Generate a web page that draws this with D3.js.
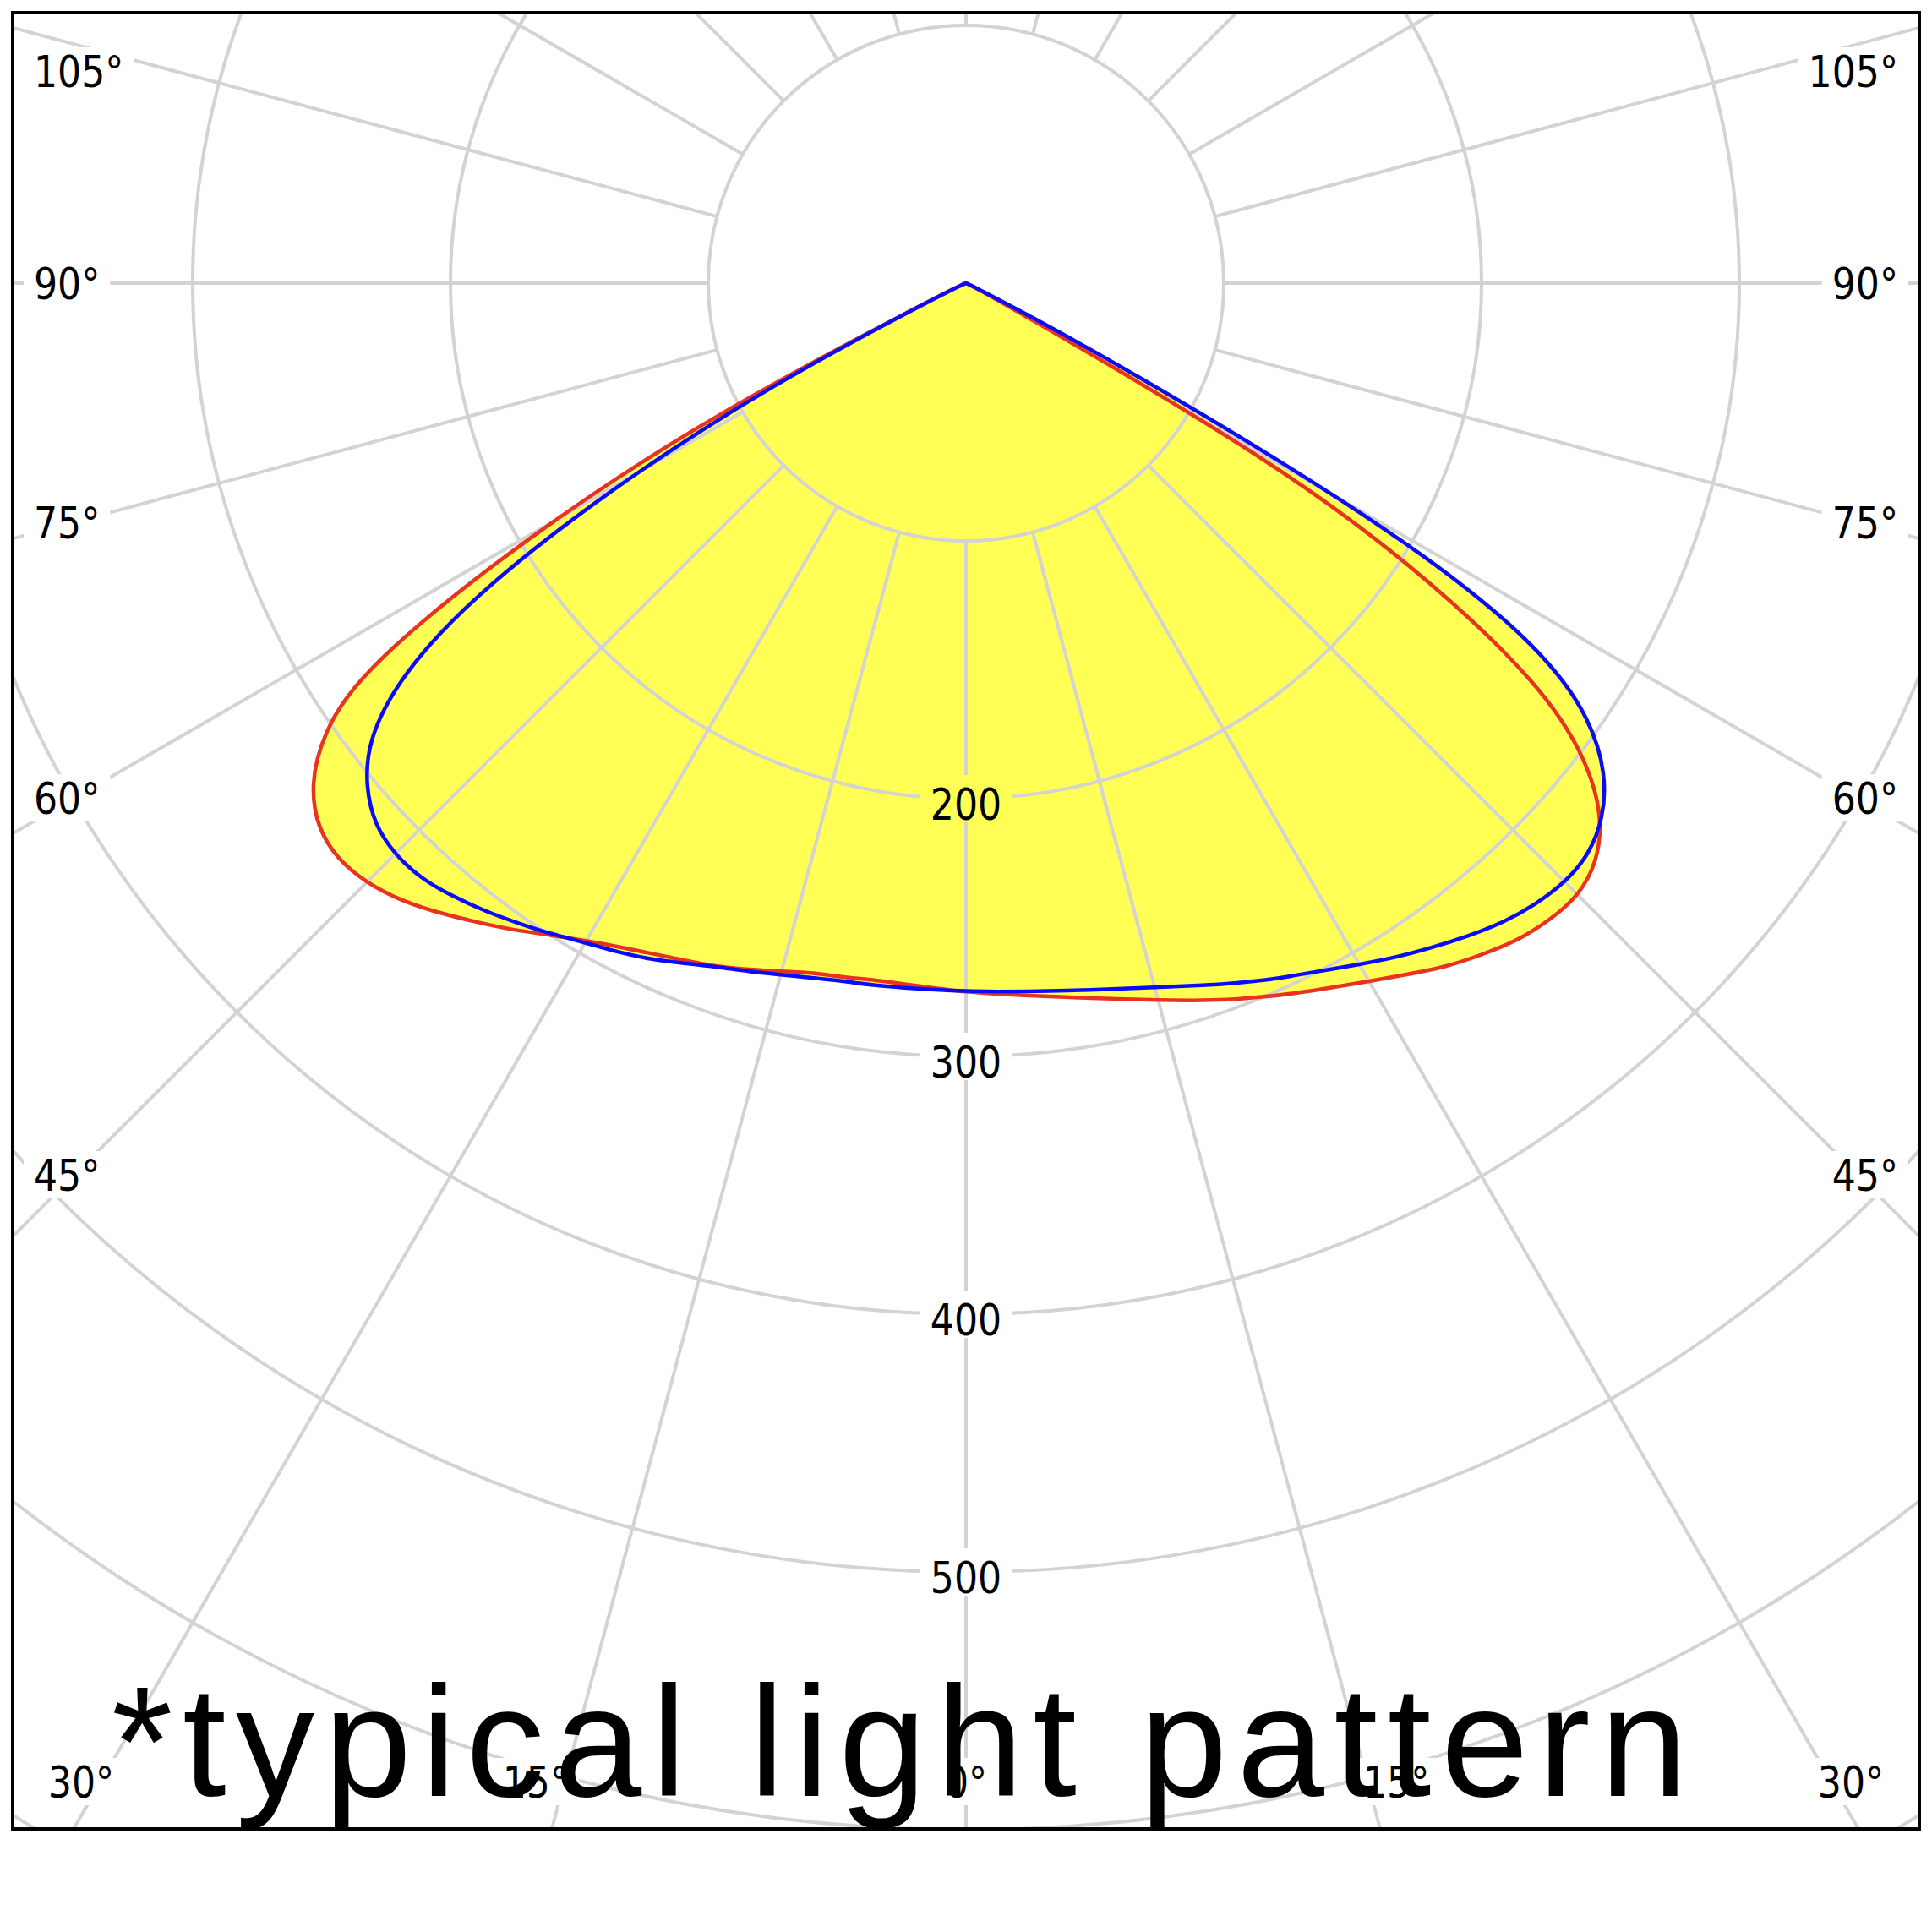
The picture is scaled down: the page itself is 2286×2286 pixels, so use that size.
<!DOCTYPE html>
<html>
<head>
<meta charset="utf-8">
<script src="https://cdn.jsdelivr.net/npm/d3@7"></script>
<style>
  html, body { margin: 0; padding: 0; background: #fff; }
</style>
</head>
<body>
<svg id="chart" width="2286" height="2286"></svg>
<script>
// vertical angles (0 = straight down, negative = left half), every 2.5 deg
const ANGLES = [
  -90, -87.5, -85, -82.5, -80, -77.5, -75, -72.5, -70, -67.5, -65, -62.5, -60, -57.5, -55, -52.5,
  -50, -47.5, -45, -42.5, -40, -37.5, -35, -32.5, -30, -27.5, -25, -22.5, -20, -17.5, -15, -12.5,
  -10, -7.5, -5, -2.5, 0, 2.5, 5, 7.5, 10, 12.5, 15, 17.5, 20, 22.5, 25, 27.5,
  30, 32.5, 35, 37.5, 40, 42.5, 45, 47.5, 50, 52.5, 55, 57.5, 60, 62.5, 65, 67.5,
  70, 72.5, 75, 77.5, 80, 82.5, 85, 87.5, 90
];

// red plane (cd/klm)
const RED = [
  0, 0, 0, 0, 0, 0, 0, 0, 0, 2, 14, 114, 196, 277, 305, 320.5,
  328.5, 330.8, 329, 324.8, 318.8, 312.4, 306.4, 299.8, 294.6, 290.4, 287.1, 284.5, 282.2, 279.2, 276.4, 274,
  273.5, 272.6, 273, 273.8, 275, 276, 277.5, 279.3, 281.7, 284.5, 288, 291.8, 296, 299.8, 303.9, 308,
  312.8, 318, 324, 328.5, 333, 335.2, 336.2, 332.2, 322.5, 303.5, 273, 212, 139, 14, 2, 0,
  0, 0, 0, 0, 0, 0, 0, 0, 0
];

// blue plane (cd/klm)
const BLUE = [
  0, 0, 0, 0, 0, 0, 0, 0, 0, 1, 10, 84, 159, 230, 269.8, 292.6,
  304, 311.2, 313.4, 313.2, 310.3, 307, 303.1, 299.4, 295.4, 292.6, 289.5, 285.6, 282.3, 280, 277.7, 276.1,
  274.9, 274.8, 274.4, 274.4, 274.7, 275.1, 275.8, 276.9, 278.4, 280.3, 282.8, 285.9, 289.5, 293.2, 296.8, 300.6,
  305.2, 310.2, 314.8, 319.5, 324, 327, 328.8, 328, 322.8, 313, 296, 267, 200, 64, 5, 0,
  0, 0, 0, 0, 0, 0, 0, 0, 0
];

const RINGS = [100, 200, 300, 400, 500, 600, 700, 800];
const RING_LABELS = [200, 300, 400, 500];
const SPOKES = [0, 15, 30, 45, 60, 75, 90, 105, 120, 135, 150, 165, 180,
  195, 210, 225, 240, 255, 270, 285, 300, 315, 330, 345];
const SIDE_LABELS = [45, 60, 75, 90, 105];
const BOTTOM_LABELS = [-30, -15, 0, 15, 30];
const NOTE = "*typical light pattern";

const frame = { x0: 15, y0: 15, x1: 2271, y1: 2164 };
const cx = 1143, cy = 335;
const GRID = "#d3d3d3";
const LABEL_FONT = "'DejaVu Sans', Verdana, sans-serif";
const SQUEEZE = 0.85;

const r = d3.scaleLinear().domain([0, 100]).range([0, 305]);
const rad = d => d * Math.PI / 180;
const pt = (deg, v) => [cx + r(v) * Math.sin(rad(deg)), cy + r(v) * Math.cos(rad(deg))];

const svg = d3.select("#chart");
const defs = svg.append("defs");

defs.append("clipPath").attr("id", "frameClip")
  .append("rect")
  .attr("x", frame.x0).attr("y", frame.y0)
  .attr("width", frame.x1 - frame.x0).attr("height", frame.y1 - frame.y0);

// grid gets knocked out behind the labels
const mask = defs.append("mask").attr("id", "labelMask")
  .attr("maskUnits", "userSpaceOnUse")
  .attr("x", 0).attr("y", 0).attr("width", 2286).attr("height", 2286);
mask.append("rect").attr("width", 2286).attr("height", 2286).attr("fill", "#fff");

const radial = d3.lineRadial()
  .angle(d => Math.PI - rad(d[0]))
  .radius(d => r(d[1]))
  .curve(d3.curveBasis);

const series = [
  { name: "red", values: RED, color: "#e8341f" },
  { name: "blue", values: BLUE, color: "#0a0aff" }
];
series.forEach(s => { s.points = ANGLES.map((a, i) => [a, s.values[i]]); });

// yellow fills
const fillG = svg.append("g").attr("transform", `translate(${cx},${cy})`);
fillG.selectAll("path")
  .data(series)
  .enter()
  .append("path")
  .attr("d", d => radial(d.points) + "Z")
  .attr("fill", "#ffff55")
  .attr("stroke", "none");

// grid
const grid = svg.append("g")
  .attr("clip-path", "url(#frameClip)")
  .append("g")
  .attr("mask", "url(#labelMask)");

grid.selectAll("circle")
  .data(RINGS)
  .enter()
  .append("circle")
  .attr("cx", cx).attr("cy", cy)
  .attr("r", d => r(d))
  .attr("fill", "none")
  .attr("stroke", GRID)
  .attr("stroke-width", 4);

grid.selectAll("line")
  .data(SPOKES)
  .enter()
  .append("line")
  .attr("x1", d => pt(d, 100)[0]).attr("y1", d => pt(d, 100)[1])
  .attr("x2", d => pt(d, 900)[0]).attr("y2", d => pt(d, 900)[1])
  .attr("stroke", GRID)
  .attr("stroke-width", 4);

// curves
const lineG = svg.append("g").attr("transform", `translate(${cx},${cy})`);
lineG.selectAll("path")
  .data(series)
  .enter()
  .append("path")
  .attr("d", d => radial(d.points) + "Z")
  .attr("fill", "none")
  .attr("stroke", d => d.color)
  .attr("stroke-width", 4.5)
  .attr("stroke-linejoin", "round");

// labels
const labels = [];
RING_LABELS.forEach(v => {
  labels.push({ text: String(v), x: cx, ay: cy + r(v), base: 25, anchor: "middle" });
});
SIDE_LABELS.forEach(a => {
  const ay = Math.max(84, cy + 1055 / Math.tan(rad(a)));
  labels.push({ text: a + "°", x: 40, ay, base: 19, anchor: "start" });
  labels.push({ text: a + "°", x: 2246, ay, base: 19, anchor: "end" });
});
BOTTOM_LABELS.forEach(a => {
  const dx = Math.max(-1047, Math.min(1047, 1900 * Math.tan(rad(a))));
  labels.push({ text: Math.abs(a) + "°", x: cx + dx, ay: 2108, base: 19, anchor: "middle" });
});

const labelG = svg.append("g");
labels.forEach(l => {
  const g = labelG.append("g")
    .attr("transform", `translate(${l.x},${l.ay + l.base}) scale(${SQUEEZE},1)`);
  const t = g.append("text")
    .attr("x", 0).attr("y", 0)
    .attr("text-anchor", l.anchor)
    .attr("font-family", LABEL_FONT)
    .attr("font-size", 52)
    .attr("fill", "#000")
    .text(l.text);
  const bb = t.node().getBBox();
  const left = l.x + bb.x * SQUEEZE;
  const w = bb.width * SQUEEZE;
  mask.append("rect")
    .attr("x", left - 12).attr("y", l.ay - 28)
    .attr("width", w + 24).attr("height", 56)
    .attr("fill", "#000");
});

// frame
svg.append("rect")
  .attr("x", frame.x0).attr("y", frame.y0)
  .attr("width", frame.x1 - frame.x0).attr("height", frame.y1 - frame.y0)
  .attr("fill", "none")
  .attr("stroke", "#000")
  .attr("stroke-width", 4);

// note
svg.append("text")
  .attr("x", 132).attr("y", 2125)
  .attr("font-family", "'Liberation Sans', Arial, Helvetica, sans-serif")
  .attr("font-size", 186)
  .attr("letter-spacing", 11.5)
  .attr("fill", "#000")
  .text(NOTE);
</script>
</body>
</html>
